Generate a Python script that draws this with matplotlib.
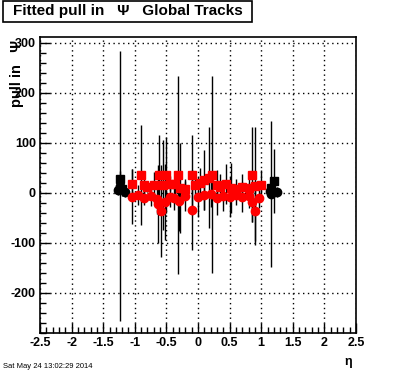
import matplotlib
matplotlib.use("Agg")
import matplotlib.pyplot as plt
from matplotlib.ticker import MultipleLocator
from matplotlib.patches import Rectangle

# ---- data ----
black_sq_eta = [-1.23, -1.20, 1.16, 1.21]
black_sq_val = [28, 8, 10, 24]
black_sq_err = [15, 15, 12, 64]

black_ci_eta = [-1.27, -1.23, -1.15, 1.14, 1.16, 1.25]
black_ci_val = [5, 13, 2, 3, -3, 2]
black_ci_err = [10, 270, 10, 10, 146, 10]

red_sq_eta = [-1.05, -0.90, -0.85, -0.80, -0.70, -0.62, -0.55, -0.50, -0.45, -0.37,
              -0.32, -0.28, -0.20, -0.10, -0.05, 0.03, 0.10, 0.17, 0.22, 0.30,
              0.35, 0.45, 0.52, 0.60, 0.70, 0.80, 0.86, 0.90, 1.00]
red_sq_val = [18, 36, 15, 12, 16, 36, 15, 36, 18, 17,
              36, 10, 8, 35, 16, 20, 26, 30, 36, 15,
              12, 18, 10, 8, 12, 10, 36, 13, 16]
red_sq_err = [30, 100, 20, 10, 25, 80, 90, 76, 15, 20,
              198, 90, 20, 80, 20, 30, 60, 101, 197, 30,
              25, 40, 50, 20, 25, 30, 95, 118, 30]

red_ci_eta = [-1.05, -0.95, -0.85, -0.75, -0.65, -0.64, -0.59, -0.52, -0.45, -0.38,
              -0.30, -0.20, -0.10, 0.00, 0.10, 0.20, 0.30, 0.40, 0.50, 0.60,
              0.70, 0.80, 0.86, 0.90, 0.97]
red_ci_val = [-8, -5, -10, -6, -12, -22, -37, -19, -8, -10,
              -16, -6, -35, -8, -5, -3, -10, -6, -9, -4,
              -8, -6, -19, -37, -10]
red_ci_err = [55, 20, 15, 20, 30, 78, 92, 76, 20, 25,
              60, 30, 80, 40, 30, 25, 35, 30, 40, 20,
              30, 25, 40, 60, 20]

title_text = "Fitted pull in   \u03a8   Global Tracks"
ylabel_text = "pull in   \u03a8"
xlabel_text = "\u03b7"
date_text = "Sat May 24 13:02:29 2014"

plt.rcParams['font.family'] = ['Liberation Sans', 'DejaVu Sans']

W, H = 396, 372
fig = plt.figure(figsize=(W / 100, H / 100), dpi=100)
ax = fig.add_axes([40 / W, 1 - 333 / H, 316 / W, 296 / H])

ax.set_xlim(-2.5, 2.5)
ax.set_ylim(-281, 311)

ms = 6
elw = 1.0
ax.errorbar(red_sq_eta, red_sq_val, yerr=red_sq_err, fmt='none',
            ecolor='black', elinewidth=elw, capsize=0, zorder=2)
ax.errorbar(red_ci_eta, red_ci_val, yerr=red_ci_err, fmt='none',
            ecolor='black', elinewidth=elw, capsize=0, zorder=2)
ax.errorbar(black_sq_eta, black_sq_val, yerr=black_sq_err, fmt='s', color='black',
            ecolor='black', elinewidth=elw, ms=ms, capsize=0, zorder=3)
ax.errorbar(black_ci_eta, black_ci_val, yerr=black_ci_err, fmt='o', color='black',
            ecolor='black', elinewidth=elw, ms=ms, capsize=0, zorder=3)
ax.plot(red_sq_eta, red_sq_val, 's', color='red', ms=ms, zorder=4)
ax.plot(red_ci_eta, red_ci_val, 'o', color='red', ms=ms, zorder=4)

ax.xaxis.set_major_locator(MultipleLocator(0.5))
ax.xaxis.set_minor_locator(MultipleLocator(0.1))
ax.yaxis.set_major_locator(MultipleLocator(100))
ax.yaxis.set_minor_locator(MultipleLocator(20))
ax.tick_params(which='both', direction='in', top=False, right=False, width=1)
ax.tick_params(which='major', length=7)
ax.tick_params(which='minor', length=4)
ax.tick_params(axis='both', which='major', labelsize=9, pad=3)
ax.set_xticks([-2.5, -2, -1.5, -1, -0.5, 0, 0.5, 1, 1.5, 2, 2.5])
ax.set_xticklabels(['-2.5', '-2', '-1.5', '-1', '-0.5', '0', '0.5', '1', '1.5', '2', '2.5'],
                   fontweight='bold')
ax.set_yticks([-200, -100, 0, 100, 200, 300])
ax.set_yticklabels(['-200', '-100', '0', '100', '200', '300'], fontweight='bold')
ax.set_xlim(-2.5, 2.5)
ax.set_ylim(-281, 311)
ax.grid(True, which='major', linestyle=(0, (1, 2.5)), color='black', linewidth=1)
for s in ax.spines.values():
    s.set_linewidth(1.2)

# title box
fig.patches.append(Rectangle((3 / W, 1 - 22 / H), 249 / W, 21 / H, transform=fig.transFigure,
                             facecolor='white', edgecolor='black', linewidth=1.2))
fig.text(128 / W, 1 - 11.5 / H, title_text, ha='center', va='center', fontsize=11,
         fontweight='bold')

fig.text(17 / W, 1 - 40 / H, ylabel_text, rotation=90, ha='center', va='top', fontsize=10.5,
         fontweight='bold')
fig.text(352 / W, 1 - 362 / H, xlabel_text, ha='right', va='center', fontsize=9,
         fontweight='bold')
fig.text(3 / W, 1 - 366 / H, date_text, ha='left', va='center', fontsize=5.5)

fig.savefig('out.png', dpi=100)
